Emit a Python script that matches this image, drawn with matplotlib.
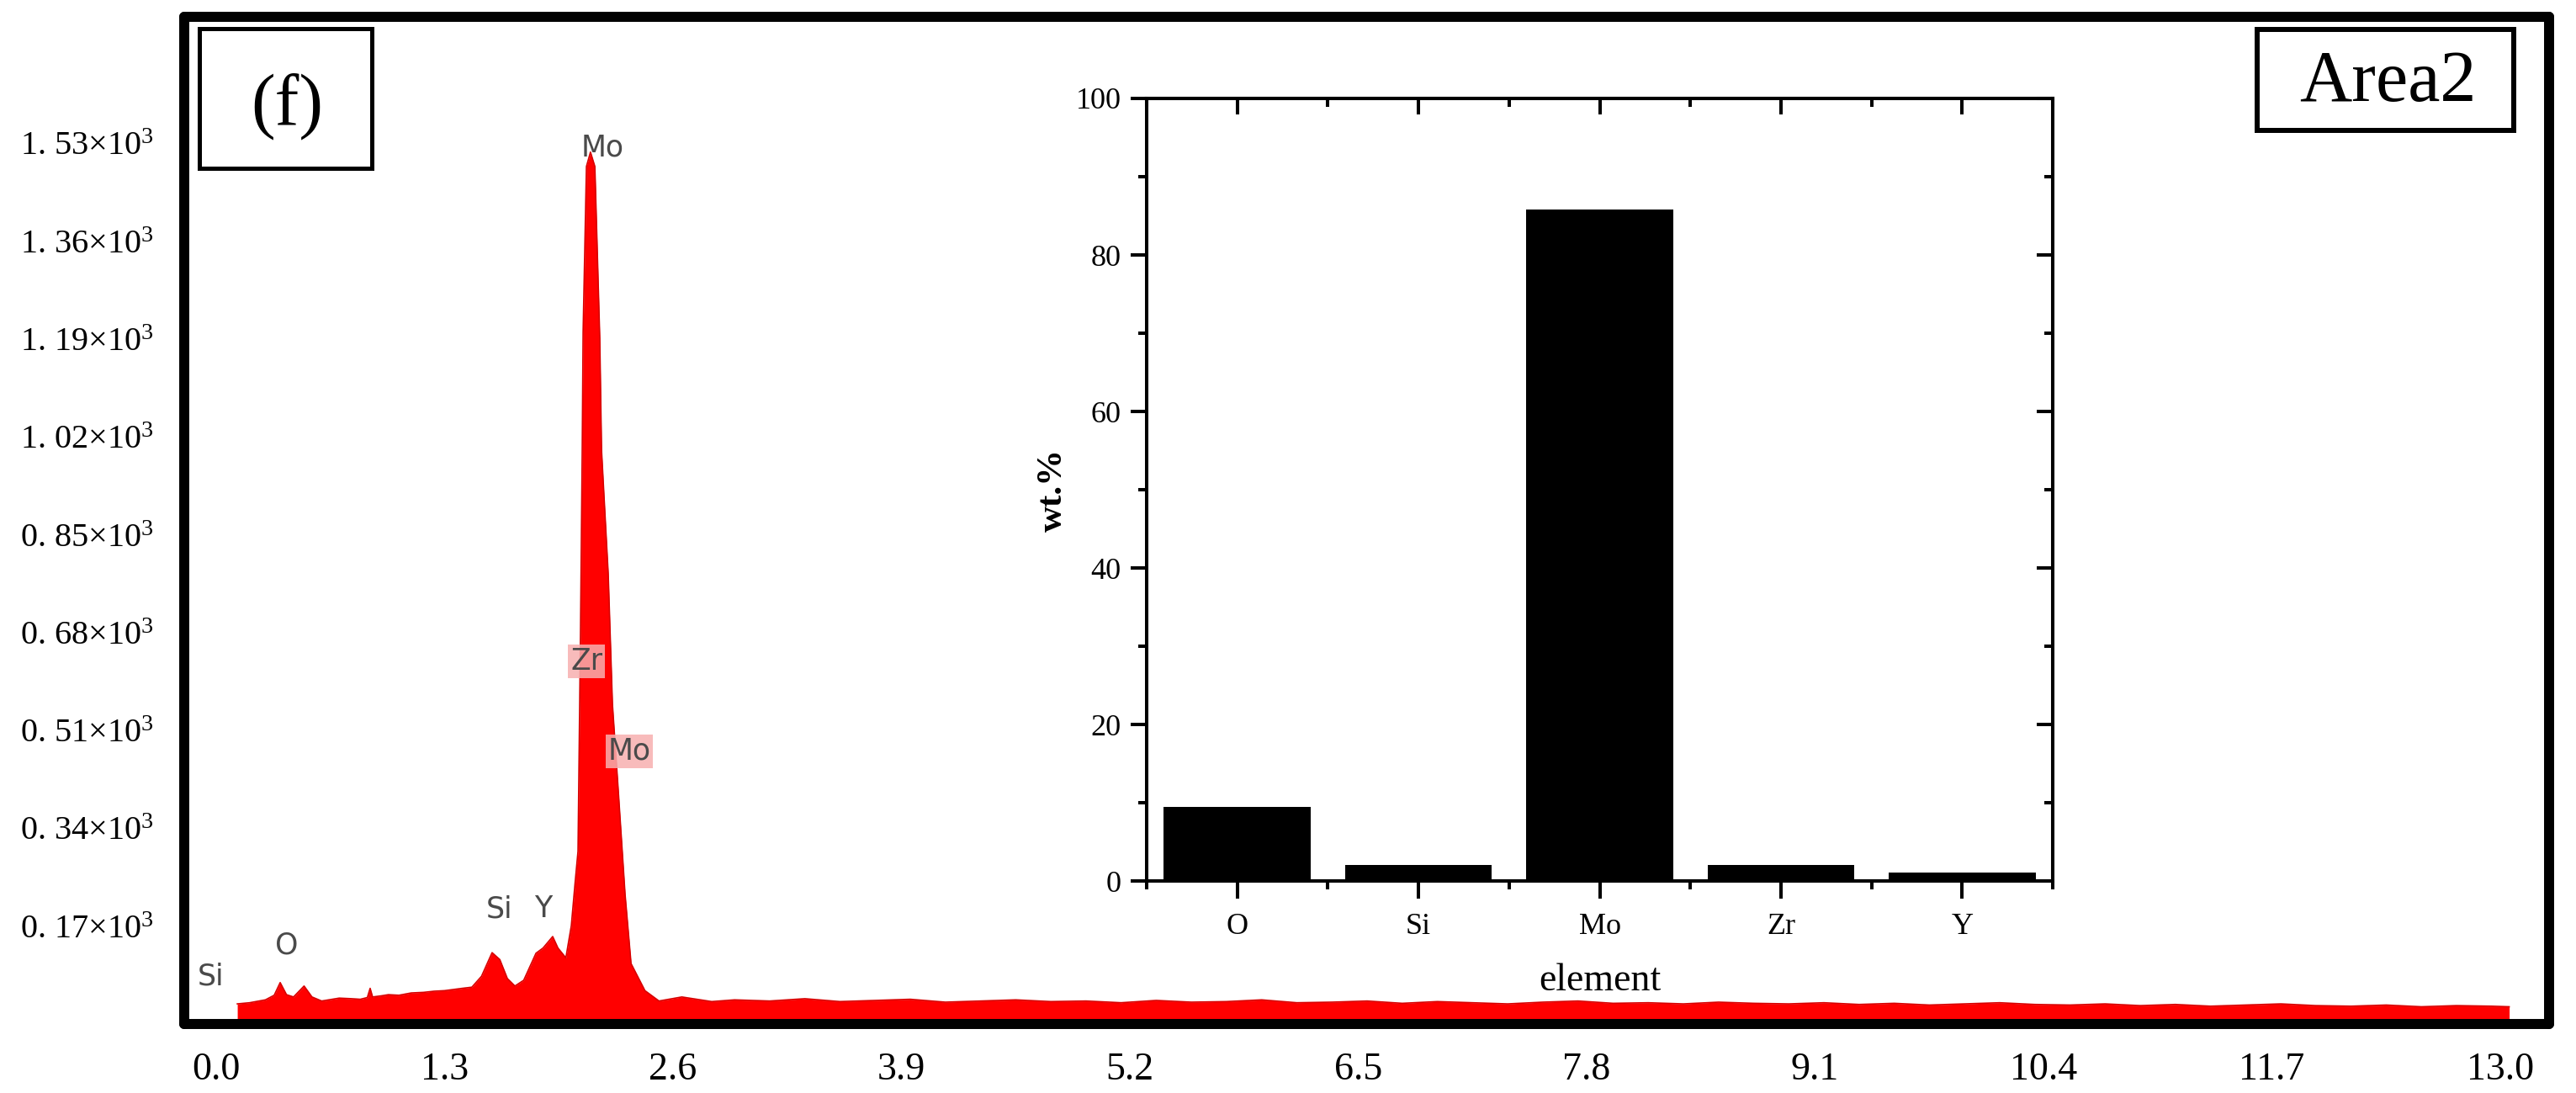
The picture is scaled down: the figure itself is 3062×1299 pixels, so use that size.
import matplotlib
matplotlib.use('Agg')
import matplotlib.pyplot as plt
from matplotlib.patches import Rectangle

# ---------------- data ----------------
energy = [0.12, 0.19, 0.28, 0.33, 0.364, 0.40, 0.44, 0.50, 0.545, 0.60, 0.64, 0.70,
          0.77, 0.82, 0.86, 0.876, 0.89, 0.94, 0.98, 1.04, 1.11, 1.18, 1.24, 1.30,
          1.35, 1.40, 1.455, 1.51, 1.57, 1.614, 1.657, 1.70, 1.75, 1.82, 1.86, 1.915,
          1.945, 1.99, 2.021, 2.042, 2.059, 2.073, 2.083, 2.088, 2.107, 2.13, 2.155,
          2.183, 2.193, 2.231, 2.255, 2.289, 2.327, 2.361, 2.44, 2.52, 2.65, 2.82,
          2.95, 3.15, 3.35, 3.55, 3.75, 3.95, 4.15, 4.35, 4.55, 4.75,
          4.95, 5.15, 5.35, 5.55, 5.75, 5.95, 6.15, 6.35, 6.55, 6.75,
          6.95, 7.15, 7.35, 7.55, 7.75, 7.95, 8.15, 8.35, 8.55, 8.75,
          8.95, 9.15, 9.35, 9.55, 9.75, 9.95, 10.15, 10.35, 10.55, 10.75,
          10.95, 11.15, 11.35, 11.55, 11.75, 11.95, 12.15, 12.35, 12.55, 12.75,
          12.95, 13.05]
counts = [35, 37, 42, 50, 72, 51, 47, 66, 47, 40, 42, 45,
          44, 43, 46, 62, 47, 49, 51, 50, 54, 55, 57, 58,
          60, 62, 64, 83, 124, 112, 79, 66, 76, 123, 132, 152,
          132, 115, 171, 244, 300, 678, 997, 1202, 1490, 1515, 1490,
          1191, 997, 782, 556, 402, 225, 105, 58, 40, 47, 39,
          42, 40, 44, 39, 41, 43, 38, 40, 42, 39,
          40, 37, 41, 38, 39, 42, 37, 38, 40, 36,
          39, 37, 35, 38, 40, 36, 37, 35, 38, 36,
          35, 37, 34, 36, 33, 35, 37, 34, 33, 35,
          32, 34, 31, 33, 35, 32, 31, 33, 30, 32,
          31, 30]

x_ticks = [0.0, 1.3, 2.6, 3.9, 5.2, 6.5, 7.8, 9.1, 10.4, 11.7, 13.0]
x_tick_labels = ['0.0', '1.3', '2.6', '3.9', '5.2', '6.5', '7.8', '9.1', '10.4', '11.7', '13.0']
y_ticks = [170, 340, 510, 680, 850, 1020, 1190, 1360, 1530]
y_tick_labels = [r'0. 17×$\mathregular{10^3}$', r'0. 34×$\mathregular{10^3}$',
                 r'0. 51×$\mathregular{10^3}$', r'0. 68×$\mathregular{10^3}$',
                 r'0. 85×$\mathregular{10^3}$', r'1. 02×$\mathregular{10^3}$',
                 r'1. 19×$\mathregular{10^3}$', r'1. 36×$\mathregular{10^3}$',
                 r'1. 53×$\mathregular{10^3}$']

peak_labels = ['Si', 'O', 'Si', 'Y', 'Mo', 'Zr', 'Mo']
peak_label_x = [-0.03, 0.40, 1.61, 1.86, 2.20, 2.107, 2.351]
peak_label_y = [83, 137, 200, 200, 1523, 630, 474]
peak_label_boxed = [False, False, False, False, False, True, True]

elements = ['O', 'Si', 'Mo', 'Zr', 'Y']
wt_percent = [9.5, 2.0, 85.8, 2.0, 1.1]

# ---------------- figure ----------------
W, H, DPI = 3062, 1299, 100
fig = plt.figure(figsize=(W / DPI, H / DPI), dpi=DPI)
fig.patch.set_facecolor('white')
SERIF = ['Liberation Serif', 'DejaVu Serif']

def fx(px):
    return px / W

def fy(py):
    return 1 - py / H

# main spectrum axes
L, R, T, B = 219, 3030, 20, 1217
ax = fig.add_axes([fx(L), fy(B), (R - L) / W, (B - T) / H])
ax.set_xlim(-0.182, 13.277)
ax.set_ylim(0, 1750)

ax.fill_between([0.12, 13.05], 0, 7, color='#f5c8d2', lw=0, zorder=1)
ax.fill_between(energy, 6, counts, color='#ff0000', lw=0, zorder=2)
ax.plot(energy, counts, color='#d80000', lw=1.2, zorder=3)

for s in ax.spines.values():
    s.set_linewidth(8.6)
    s.set_color('black')
    s.set_capstyle('round')

ax.set_xticks(x_ticks, x_tick_labels)
ax.set_yticks(y_ticks, y_tick_labels)
ax.tick_params(axis='x', length=0, pad=24, labelsize=33)
ax.tick_params(axis='y', length=0, pad=26, labelsize=29)
for lab in ax.get_xticklabels() + ax.get_yticklabels():
    lab.set_fontfamily(SERIF)

for t, x, y, boxed in zip(peak_labels, peak_label_x, peak_label_y, peak_label_boxed):
    kw = {}
    if boxed:
        kw['bbox'] = dict(facecolor='#f7b0b0', edgecolor='none', pad=2, alpha=0.85)
    ax.text(x, y, t, ha='center', va='center', fontsize=25, color='#4a4a4a',
            family=['DejaVu Sans'], zorder=5, **kw)

# inset bar chart
iL, iR, iT, iB = 1363, 2440, 117, 1047
axi = fig.add_axes([fx(iL), fy(iB), (iR - iL) / W, (iB - iT) / H])
axi.set_facecolor('white')
pos = list(range(len(elements)))
axi.bar(pos, wt_percent, width=0.81, color='black', zorder=3)
axi.set_xlim(-0.5, 4.5)
axi.set_ylim(0, 100)
for s in axi.spines.values():
    s.set_linewidth(2.9)

axi.set_xticks(pos, elements)
axi.set_xticks([-0.5, 0.5, 1.5, 2.5, 3.5, 4.5], minor=True)
axi.set_yticks([0, 20, 40, 60, 80, 100])
axi.set_yticks([10, 30, 50, 70, 90], minor=True)
axi.tick_params(which='major', direction='out', length=14, width=2.9, labelsize=26, pad=8)
axi.tick_params(which='minor', direction='out', length=7, width=2.9)
axi.tick_params(axis='x', which='major', length=15, pad=12)
for lab in axi.get_xticklabels() + axi.get_yticklabels():
    lab.set_fontfamily(SERIF)

sec_y = axi.secondary_yaxis('right')
sec_y.set_yticks([0, 20, 40, 60, 80, 100])
sec_y.set_yticks([10, 30, 50, 70, 90], minor=True)
sec_y.tick_params(which='major', direction='in', length=14, width=2.9, labelright=False)
sec_y.tick_params(which='minor', direction='in', length=7, width=2.9)
sec_y.spines['right'].set_linewidth(2.9)

sec_x = axi.secondary_xaxis('top')
sec_x.set_xticks(pos)
sec_x.set_xticks([-0.5, 0.5, 1.5, 2.5, 3.5, 4.5], minor=True)
sec_x.tick_params(which='major', direction='in', length=14, width=2.9, labeltop=False)
sec_x.tick_params(which='minor', direction='in', length=7, width=2.9)
sec_x.spines['top'].set_linewidth(2.9)

axi.set_xlabel('element', fontsize=33, family=SERIF)
axi.xaxis.set_label_coords(0.5, -0.105)
axi.set_ylabel('wt.%', fontsize=31, fontweight='bold', family=SERIF)
axi.yaxis.set_label_coords(-0.086, 0.5)

# label boxes
def box(x0, y0, x1, y1, lw):
    fig.add_artist(Rectangle((fx(x0), fy(y1)), (x1 - x0) / W, (y1 - y0) / H,
                             transform=fig.transFigure, facecolor='white',
                             edgecolor='black', lw=lw, zorder=10))

box(237, 34, 442, 200, 3.6)
fig.text(fx(341), fy(147), '(f)', ha='center', va='baseline', fontsize=62,
         family=SERIF, zorder=11)
box(2683, 35, 2988, 155, 4.3)
fig.text(fx(2838), fy(120), 'Area2', ha='center', va='baseline', fontsize=62,
         family=SERIF, zorder=11)

fig.savefig('out.png', dpi=DPI)
